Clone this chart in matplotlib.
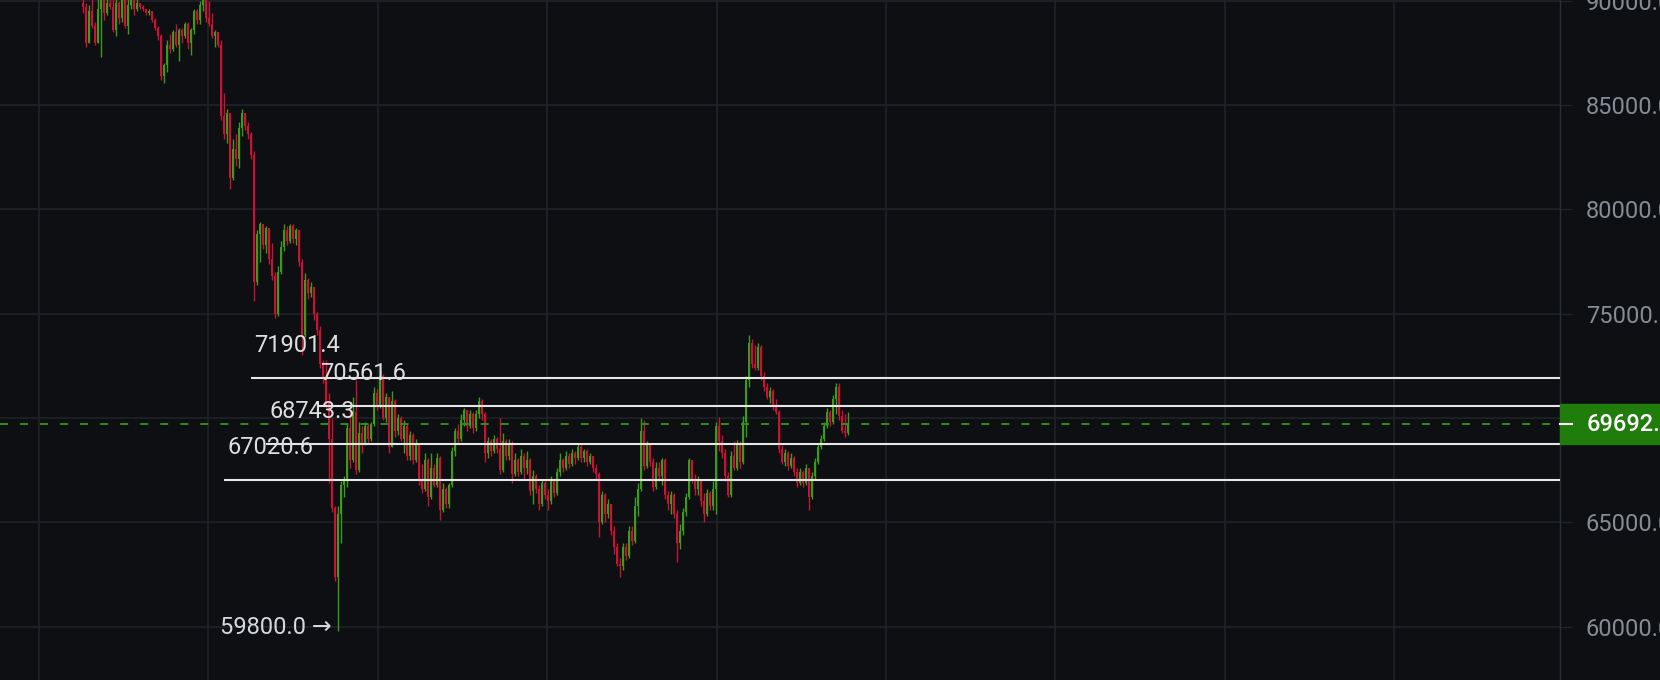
import numpy as np
import matplotlib
matplotlib.use("Agg")
import matplotlib.pyplot as plt
from matplotlib import transforms
from matplotlib.patches import Rectangle
from matplotlib.lines import Line2D

plt.rcParams["font.family"] = ["Roboto", "DejaVu Sans"]

BG = "#0d0f12"
GRID = "#1f2227"
RED = "#cc1232"
GREEN = "#3d9a1a"

# candles, prices in thousands (open = previous close)
first_open = 89.9
closes = [
    89.7, 88.0, 89.5, 88.8, 88.0, 89.6, 90.2, 89.4, 89.9, 89.7,
    88.6, 89.9, 89.2, 90.1, 88.8, 89.8, 90.3, 89.6, 89.9, 89.7,
    89.6, 89.4, 89.5, 89.1, 88.7, 88.3, 86.4, 86.9, 87.9, 87.7,
    88.5, 87.9, 88.6, 88.3, 88.9, 88.0, 88.6, 89.5, 89.1, 89.8,
    90.3, 89.2, 88.9, 88.3, 88.5, 87.9, 84.5, 83.6, 84.6, 81.5,
    82.9, 82.4, 83.9, 84.6, 84.0, 83.6, 82.6, 76.5, 78.8, 79.3,
    78.3, 79.1, 77.6, 76.8, 75.0, 77.0, 78.2, 79.0, 78.5, 79.2,
    78.6, 79.0, 77.5, 74.0, 76.6, 76.0, 76.3, 75.0, 74.2, 72.6,
    71.9, 70.7, 69.0, 65.7, 62.4, 65.4, 66.8, 67.0, 69.5, 68.0,
    70.3, 67.5, 69.3, 68.8, 69.6, 69.0, 69.7, 71.2, 70.6, 72.0,
    70.0, 71.0, 68.6, 70.8, 69.4, 70.0, 69.0, 69.6, 68.2, 69.2,
    68.0, 68.7, 67.0, 66.6, 68.0, 66.2, 67.6, 66.8, 68.1, 65.6,
    66.6, 65.9, 66.8, 68.4, 69.4, 69.0, 69.9, 70.4, 69.6, 70.2,
    69.5, 70.2, 70.8, 70.2, 68.3, 68.9, 68.4, 69.0, 68.5, 67.5,
    68.9, 68.2, 68.8, 67.3, 68.0, 67.4, 68.2, 67.6, 68.0, 66.5,
    67.2, 66.6, 65.9, 66.9, 66.3, 66.0, 67.0, 66.4, 67.4, 68.0,
    67.6, 68.2, 67.8, 68.3, 68.1, 68.6, 68.1, 68.4, 67.9, 68.2,
    67.6, 67.3, 65.0, 66.3, 65.4, 65.9, 64.6, 63.8, 63.0, 62.9,
    63.8, 63.4, 64.6, 64.1, 65.8, 66.6, 69.4, 67.7, 68.7, 67.9,
    66.7, 67.6, 67.2, 68.0, 66.3, 65.9, 66.3, 65.4, 64.0, 64.6,
    65.5, 66.2, 68.0, 67.1, 66.6, 67.0, 66.0, 65.4, 66.4, 65.8,
    66.6, 69.6, 68.9, 68.3, 67.2, 66.3, 68.2, 67.6, 68.8, 67.9,
    69.8, 71.8, 73.6, 72.6, 72.4, 73.4, 72.0, 71.5, 71.0, 71.3,
    70.6, 70.3, 68.5, 67.9, 68.3, 67.7, 68.1, 67.4, 66.9, 67.4,
    66.9, 67.6, 66.2, 67.2, 67.9, 68.6, 69.0, 69.6, 70.3, 69.8,
    70.9, 71.5, 70.1, 69.4, 69.3, 69.692,
]
highs = [
    90.5, 89.9, 89.8, 90.3, 89.0, 90.4, 90.6, 90.6, 90.5, 90.4,
    90.2, 90.1, 90.0, 90.4, 90.2, 90.3, 90.6, 90.2, 90.1, 89.9,
    89.8, 89.6, 89.6, 89.5, 89.2, 88.8, 88.4, 87.0, 88.1, 88.4,
    88.6, 88.9, 88.7, 88.7, 89.0, 89.0, 88.7, 89.6, 89.6, 90.0,
    90.7, 90.5, 90.0, 89.4, 88.6, 88.5, 88.1, 85.6, 84.8, 84.6,
    83.4, 83.6, 84.2, 84.8, 84.6, 84.2, 83.7, 82.8, 79.0, 79.4,
    79.2, 79.2, 79.0, 78.4, 77.0, 77.3, 78.5, 79.3, 79.2, 79.3,
    79.3, 79.1, 79.0, 77.6, 76.95, 76.7, 76.5, 76.3, 75.1, 74.4,
    72.8, 72.8, 71.2, 70.0, 65.8, 65.8, 67.0, 67.2, 69.7, 70.4,
    71.0, 71.8, 69.8, 69.6, 69.8, 69.7, 69.8, 71.5, 71.4, 72.3,
    72.1, 71.2, 71.0, 71.3, 70.9, 70.2, 70.1, 69.9, 69.7, 69.4,
    69.3, 69.0, 68.8, 67.8, 68.3, 68.1, 68.3, 67.8, 68.3, 68.2,
    66.9, 66.7, 66.9, 68.6, 69.5, 69.7, 70.2, 70.5, 70.4, 70.4,
    70.3, 70.4, 71.0, 70.9, 70.3, 69.1, 69.0, 69.2, 69.1, 70.0,
    69.3, 69.0, 69.0, 68.9, 68.3, 68.1, 68.5, 68.3, 68.4, 68.1,
    67.5, 67.3, 66.8, 67.1, 67.0, 66.6, 67.2, 67.1, 67.6, 68.3,
    68.1, 68.4, 68.3, 68.5, 68.4, 68.8, 68.7, 68.5, 68.5, 68.3,
    68.2, 67.8, 67.4, 66.5, 66.4, 66.1, 65.9, 64.8, 64.0, 63.3,
    64.0, 64.0, 64.8, 64.8, 66.2, 66.9, 70.0, 69.9, 68.9, 68.8,
    68.1, 67.9, 67.9, 68.1, 68.1, 66.5, 66.5, 66.4, 65.6, 64.9,
    65.7, 66.4, 68.1, 68.0, 67.3, 67.2, 67.1, 66.4, 66.6, 66.5,
    67.0, 69.8, 70.05, 69.2, 68.5, 67.4, 68.4, 68.9, 68.95, 68.9,
    70.1, 72.0, 74.0, 73.8, 73.5, 73.6, 73.5, 72.2, 71.7, 71.5,
    71.4, 70.9, 70.4, 68.7, 68.5, 68.4, 68.3, 68.2, 67.6, 67.6,
    67.5, 67.8, 67.6, 67.4, 68.1, 68.8, 69.2, 69.8, 70.5, 70.4,
    71.1, 71.7, 71.7, 70.4, 70.2, 70.3,
]
lows = [
    89.4, 87.8, 88.0, 88.7, 87.9, 88.0, 87.3, 89.1, 89.3, 89.6,
    88.5, 88.3, 88.9, 89.0, 88.7, 88.4, 89.6, 89.3, 89.5, 89.6,
    89.5, 89.3, 89.3, 89.0, 88.6, 88.1, 86.2, 86.05, 86.6, 87.5,
    87.6, 87.8, 87.1, 88.0, 88.2, 87.7, 87.4, 88.4, 88.9, 88.9,
    89.5, 89.0, 88.8, 88.2, 87.8, 87.8, 84.3, 83.4, 83.2, 81.0,
    81.4, 82.1, 82.0, 83.5, 83.8, 83.4, 82.4, 75.6, 76.4, 77.5,
    78.1, 77.9, 77.4, 76.6, 74.8, 74.9, 76.9, 78.0, 78.3, 78.4,
    78.4, 78.3, 77.3, 73.0, 73.9, 75.7, 75.8, 74.7, 74.0, 72.4,
    71.7, 70.5, 66.9, 65.5, 62.2, 59.8, 64.0, 66.2, 66.7, 67.6,
    67.9, 67.3, 67.4, 68.3, 68.7, 68.8, 68.9, 69.6, 70.4, 70.5,
    69.9, 69.8, 68.3, 68.6, 69.1, 69.2, 68.9, 68.3, 68.0, 68.0,
    67.8, 67.9, 66.8, 66.4, 66.5, 65.8, 66.1, 66.7, 66.7, 65.1,
    65.5, 65.7, 65.7, 66.7, 68.2, 68.8, 68.9, 69.6, 69.4, 69.5,
    69.3, 69.4, 70.0, 69.9, 67.9, 68.1, 68.2, 68.3, 68.3, 67.3,
    67.4, 68.0, 68.0, 66.9, 67.2, 67.2, 67.3, 67.1, 67.3, 66.3,
    65.9, 66.4, 65.6, 65.8, 66.1, 65.6, 65.9, 66.2, 66.3, 67.2,
    67.4, 67.5, 67.6, 67.7, 67.8, 68.0, 67.9, 67.9, 67.7, 67.8,
    67.4, 67.1, 64.3, 64.9, 65.0, 65.2, 64.4, 63.5, 62.9, 62.4,
    62.7, 63.2, 63.3, 63.9, 64.0, 65.3, 66.5, 67.5, 67.6, 67.7,
    66.5, 66.6, 67.0, 66.8, 66.1, 65.6, 65.4, 65.2, 63.1, 63.7,
    64.4, 65.3, 66.1, 66.9, 66.3, 66.3, 65.8, 65.0, 65.3, 65.6,
    65.6, 65.4, 68.4, 68.1, 67.0, 66.2, 66.2, 67.5, 67.5, 67.6,
    67.8, 69.1, 71.5, 72.4, 72.3, 72.3, 71.8, 71.3, 70.9, 70.7,
    70.4, 70.2, 68.3, 67.8, 67.7, 67.5, 67.6, 67.2, 66.7, 66.8,
    66.7, 66.8, 65.6, 66.1, 67.1, 67.8, 68.5, 68.9, 69.5, 69.6,
    69.7, 70.2, 69.9, 69.3, 69.1, 69.2,
]

level_values = [71901.4, 70561.6, 68743.3, 67020.6]
level_start = [56, 78, 61, 47]   # candle index where each level begins
price_ticks = [60000, 65000, 70000, 75000, 80000, 85000, 90000]

c = np.array(closes) * 1000
h = np.array(highs) * 1000
l = np.array(lows) * 1000
o = np.concatenate([[first_open * 1000], c[:-1]])
idx = np.arange(len(c))
last = c[-1]

W, H = 1660, 680
AX_W = 1560
fig = plt.figure(figsize=(W / 100, H / 100), dpi=100, facecolor=BG)
ax = fig.add_axes([0, 0, AX_W / W, 1])
ax.set_facecolor(BG)

ymin, ymax = 57440, 90040
xmin, xmax = -83 / 3, (AX_W - 83) / 3
ax.set_xlim(xmin, xmax)
ax.set_ylim(ymin, ymax)
upp = (ymax - ymin) / H  # price units per pixel

# grid; the tick label hidden under the price tag is left blank
ax.set_xticks(np.arange(-14.67, xmax, 56.47))
ax.set_yticks(price_ticks)
ax.set_yticklabels(["" if abs(v - last) < 40 * upp else f"{v:.1f}"
                    for v in price_ticks])
ax.grid(True, color=GRID, lw=1.2, zorder=0)
ax.tick_params(axis="x", length=0, labelbottom=False)
ax.yaxis.tick_right()
ax.tick_params(axis="y", length=8.6, width=1, color=GRID, pad=10,
               labelsize=17, labelcolor="#868b94")
for s in ["top", "left", "bottom"]:
    ax.spines[s].set_visible(False)
ax.spines["right"].set_color("#2b2f36")
ax.spines["right"].set_linewidth(1.0)

# candles
colors = np.where(c >= o, GREEN, RED)
ax.vlines(idx, l, h, colors=colors, lw=1.0, zorder=3)
ax.bar(idx, np.maximum(np.abs(c - o), 45), bottom=np.minimum(o, c),
       width=0.85, color=colors, lw=0, zorder=3)

# horizontal levels
for v, s in zip(level_values, level_start):
    ax.hlines(v, s, xmax, colors="#e6e6e6", lw=1.5, zorder=4)
    ax.annotate(f"{v:.1f}", (s, v), xytext=(3, 33), textcoords="offset pixels",
                ha="left", va="center", color="#dedede", fontsize=17, zorder=5)

# lowest point marker
i_low = int(np.argmin(l))
ax.annotate(f"{l[i_low]:.1f} \u2192", (i_low, l[i_low]), xytext=(-6, 3),
            textcoords="offset pixels", ha="right", va="center",
            color="#d5d8de", fontsize=17, zorder=5)

# current price
ax.axhline(last, color="#2f8f17", lw=1.4, ls=(0, (4.1, 6.2)), zorder=4)
trans = transforms.blended_transform_factory(fig.transFigure, ax.transData)
fig.add_artist(Rectangle((AX_W / W, last - 20 * upp), (W - AX_W) / W, 40 * upp,
                         transform=trans, color="#207d0c", zorder=6))
fig.add_artist(Line2D([AX_W / W, 1572 / W], [last, last], transform=trans,
                      color="white", lw=1.5, zorder=7))
fig.text(1587 / W, last, f"{last:.1f}", transform=trans, ha="left", va="center",
         color="white", fontsize=17, fontweight="medium", zorder=8)

fig.savefig("out.png", dpi=100, facecolor=BG)
